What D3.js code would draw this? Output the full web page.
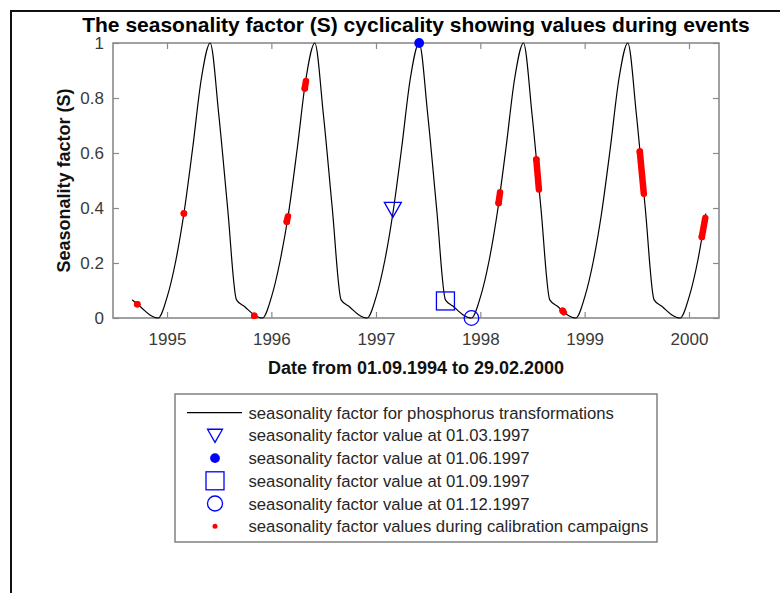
<!DOCTYPE html>
<html><head><meta charset="utf-8">
<script src="https://cdn.jsdelivr.net/npm/d3@7"></script>
<style>
body{margin:0;background:#fff}
text{font-family:"Liberation Sans",Arial,Helvetica,sans-serif}
</style>
</head><body>
<svg id="chart" width="780" height="593"></svg>
<script>
// ---------- DATA ----------
const curveDates = [
  "1994-09-01","1994-10-01","1994-11-01","1994-12-01",
  "1995-01-01","1995-02-01","1995-03-01","1995-04-01","1995-05-01","1995-06-01","1995-07-01","1995-08-01","1995-09-01","1995-10-01","1995-11-01","1995-12-01",
  "1996-01-01","1996-02-01","1996-03-01","1996-04-01","1996-05-01","1996-06-01","1996-07-01","1996-08-01","1996-09-01","1996-10-01","1996-11-01","1996-12-01",
  "1997-01-01","1997-02-01","1997-03-01","1997-04-01","1997-05-01","1997-06-01","1997-07-01","1997-08-01","1997-09-01","1997-10-01","1997-11-01","1997-12-01",
  "1998-01-01","1998-02-01","1998-03-01","1998-04-01","1998-05-01","1998-06-01","1998-07-01","1998-08-01","1998-09-01","1998-10-01","1998-11-01","1998-12-01",
  "1999-01-01","1999-02-01","1999-03-01","1999-04-01","1999-05-01","1999-06-01","1999-07-01","1999-08-01","1999-09-01","1999-10-01","1999-11-01","1999-12-01",
  "2000-01-01","2000-02-01","2000-02-29"
];
const curveValues = [
  0.066,0.04,0.012,0,
  0.075,0.21,0.38,0.62,0.87,1.0,0.74,0.40,0.066,0.04,0.012,0,
  0.075,0.21,0.38,0.62,0.87,1.0,0.74,0.40,0.066,0.04,0.012,0,
  0.075,0.21,0.38,0.62,0.87,1.0,0.74,0.40,0.066,0.04,0.012,0,
  0.075,0.21,0.38,0.62,0.87,1.0,0.74,0.40,0.066,0.04,0.012,0,
  0.075,0.21,0.38,0.62,0.87,1.0,0.74,0.40,0.066,0.04,0.012,0,
  0.075,0.21,0.38
];

// special event values (01.03, 01.06, 01.09, 01.12.1997)
const eventDates  = ["1997-03-01","1997-06-01","1997-09-01","1997-12-01"];
const eventValues = [0.395, 1.0, 0.062, 0.0];

// calibration campaigns (start/end date and value)
const campStartDates  = ["1994-09-19","1995-03-01","1995-11-02","1996-02-24","1996-04-27","1998-03-06","1998-07-16","1998-10-16","1999-07-13","2000-02-15"];
const campEndDates    = ["1994-09-19","1995-03-01","1995-11-02","1996-02-28","1996-05-01","1998-03-11","1998-07-25","1998-10-20","1999-07-27","2000-02-27"];
const campStartValues = [0.05,0.38,0.008,0.35,0.835,0.418,0.576,0.026,0.605,0.295];
const campEndValues   = [0.05,0.38,0.008,0.37,0.862,0.457,0.467,0.021,0.452,0.364];

const xTickDates  = ["1995-01-01","1996-01-01","1997-01-01","1998-01-01","1999-01-01","2000-01-01"];
const xTickLabels = ["1995","1996","1997","1998","1999","2000"];
const yTicks      = [0,0.2,0.4,0.6,0.8,1];
const yTickLabels = ["0","0.2","0.4","0.6","0.8","1"];

const titleText  = "The seasonality factor (S) cyclicality showing values during events";
const xLabelText = "Date from 01.09.1994 to 29.02.2000";
const yLabelText = "Seasonality factor (S)";
const legendLabels = [
  "seasonality factor for phosphorus transformations",
  "seasonality factor value at 01.03.1997",
  "seasonality factor value at 01.06.1997",
  "seasonality factor value at 01.09.1997",
  "seasonality factor value at 01.12.1997",
  "seasonality factor values during calibration campaigns"
];

// ---------- DRAW ----------
const parse = d3.utcParse("%Y-%m-%d");
const W = 780, H = 593;
const L = 113, R = 719, T = 43, B = 318;
const svg = d3.select("#chart");

const x = d3.scaleUtc().domain([parse("1994-06-26"), parse("2000-04-15")]).range([L, R]);
const y = d3.scaleLinear().domain([0, 1]).range([B, T]);

// outer frame
svg.append("path").attr("d", `M11,${H + 5}V11H${W + 5}`)
  .attr("fill", "none").attr("stroke", "#111").attr("stroke-width", 2);

const axisColor = "#8a8a8a";
const tickFont = 17;

// bottom axis
const gx = svg.append("g").attr("transform", `translate(0,${B})`)
  .call(d3.axisBottom(x).tickValues(xTickDates.map(parse))
    .tickFormat((d, i) => xTickLabels[i]).tickSizeInner(-6).tickSizeOuter(0).tickPadding(15));
// top axis ticks
const gxt = svg.append("g").attr("transform", `translate(0,${T})`)
  .call(d3.axisTop(x).tickValues(xTickDates.map(parse)).tickFormat("").tickSizeInner(-6).tickSizeOuter(0));
// left axis
const gy = svg.append("g").attr("transform", `translate(${L},0)`)
  .call(d3.axisLeft(y).tickValues(yTicks).tickFormat((d, i) => yTickLabels[i]).tickSizeInner(-6).tickSizeOuter(0).tickPadding(9));
// right axis ticks
const gyr = svg.append("g").attr("transform", `translate(${R},0)`)
  .call(d3.axisRight(y).tickValues(yTicks).tickFormat("").tickSizeInner(-6).tickSizeOuter(0));

[gx, gxt, gy, gyr].forEach(g => {
  g.select(".domain").remove();
  g.selectAll(".tick line").attr("stroke", axisColor).attr("stroke-width", 1.2);
  g.selectAll(".tick text").attr("fill", "#3a3a3a").style("font-size", tickFont + "px")
    .style("font-family", '"Liberation Sans",Arial,sans-serif');
});

// box
svg.append("rect").attr("x", L).attr("y", T).attr("width", R - L).attr("height", B - T)
  .attr("fill", "none").attr("stroke", axisColor).attr("stroke-width", 1.6);

// curve
const curveData = curveDates.map((d, i) => ({ date: parse(d), v: curveValues[i] }));
svg.append("path").datum(curveData)
  .attr("d", d3.line().x(d => x(d.date)).y(d => y(d.v)).curve(d3.curveMonotoneX))
  .attr("fill", "none").attr("stroke", "#000").attr("stroke-width", 1.2);

// calibration campaigns
const camps = campStartDates.map((d, i) => ({
  x0: x(parse(d)), y0: y(campStartValues[i]),
  x1: x(parse(campEndDates[i])), y1: y(campEndValues[i])
}));
const gc = svg.append("g");
gc.selectAll("line").data(camps).join("line")
  .attr("x1", d => d.x0).attr("y1", d => d.y0).attr("x2", d => d.x1).attr("y2", d => d.y1)
  .attr("stroke", "#ff0000").attr("stroke-width", 6.5).attr("stroke-linecap", "round");
gc.selectAll("circle.a").data(camps).join("circle").attr("class", "a")
  .attr("cx", d => d.x0).attr("cy", d => d.y0).attr("r", 3.3).attr("fill", "#ff0000");

// event markers
const blue = "#0000ff";
function drawMarker(g, kind, cx, cy, s) {
  if (kind === 0) {
    g.append("path").attr("d", `M${cx - 8.5 * s},${cy - 7 * s}L${cx + 8.5 * s},${cy - 7 * s}L${cx},${cy + 8 * s}Z`)
      .attr("fill", "none").attr("stroke", blue).attr("stroke-width", 1.3);
  } else if (kind === 1) {
    g.append("circle").attr("cx", cx).attr("cy", cy).attr("r", 4.9 * s).attr("fill", blue);
  } else if (kind === 2) {
    g.append("rect").attr("x", cx - 9 * s).attr("y", cy - 9 * s).attr("width", 18 * s).attr("height", 18 * s)
      .attr("fill", "none").attr("stroke", blue).attr("stroke-width", 1.3);
  } else if (kind === 3) {
    g.append("circle").attr("cx", cx).attr("cy", cy).attr("r", 7.3 * s)
      .attr("fill", "none").attr("stroke", blue).attr("stroke-width", 1.3);
  } else if (kind === 4) {
    g.append("circle").attr("cx", cx).attr("cy", cy).attr("r", 2.5).attr("fill", "#ff0000");
  }
}
const ge = svg.append("g");
eventDates.forEach((d, i) => drawMarker(ge, i, x(parse(d)), y(eventValues[i]), 1));

// title & labels
svg.append("text").attr("x", 416).attr("y", 32).attr("text-anchor", "middle")
  .style("font-size", "21px").style("font-weight", "bold").attr("fill", "#000").text(titleText);
svg.append("text").attr("x", 416).attr("y", 373.5).attr("text-anchor", "middle")
  .style("font-size", "18px").style("font-weight", "bold").attr("fill", "#111").text(xLabelText);
svg.append("text").attr("transform", `translate(70,${(T + B) / 2}) rotate(-90)`).attr("text-anchor", "middle")
  .style("font-size", "18px").style("font-weight", "bold").attr("fill", "#111").text(yLabelText);

// legend
const lg = svg.append("g");
lg.append("rect").attr("x", 175).attr("y", 394).attr("width", 482).attr("height", 148)
  .attr("fill", "#fff").attr("stroke", "#808080").attr("stroke-width", 1.5);
const rowY = i => 412.7 + i * 22.7;
legendLabels.forEach((t, i) => {
  const cy = rowY(i);
  if (i === 0) {
    lg.append("line").attr("x1", 187).attr("x2", 242).attr("y1", cy).attr("y2", cy)
      .attr("stroke", "#000").attr("stroke-width", 1.2);
  } else {
    drawMarker(lg, i - 1, 215, cy, i === 1 ? 0.88 : (i === 4 ? 1.03 : 1));
  }
  lg.append("text").attr("x", 248.5).attr("y", cy + 6).style("font-size", "16.7px")
    .attr("fill", "#262626").text(t);
});
</script>
</body></html>
